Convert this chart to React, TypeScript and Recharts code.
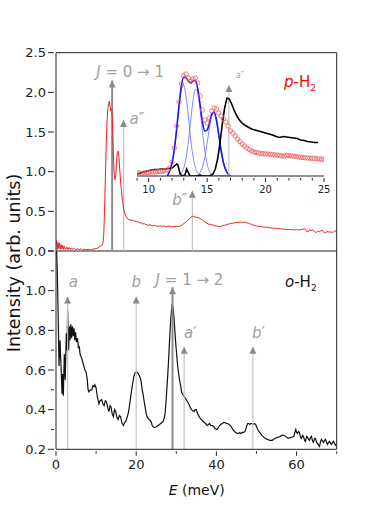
import React from "react";
import { LineChart, Line, XAxis, YAxis, ReferenceLine, ReferenceDot } from "recharts";

const FONT = "'DejaVu Sans', sans-serif";

// p-H2 spectrum (top panel)
const pEnergy = [
  0.1, 0.3, 0.5, 0.7, 0.9, 1.1, 1.3, 1.5, 1.7, 1.9, 2.1, 2.4, 2.7, 3.0, 3.3, 3.6, 3.9, 4.2, 4.6, 5.0,
  5.4, 5.8, 6.2, 6.6, 7.0, 7.5, 8.0, 8.5, 9.0, 9.5, 10.0, 10.5, 11.0, 11.4, 11.7, 11.9, 12.1, 12.3, 12.5, 12.7,
  12.9, 13.1, 13.3, 13.5, 13.7, 13.9, 14.1, 14.3, 14.5, 14.7, 14.9, 15.1, 15.3, 15.5, 15.7, 15.9, 16.2, 16.6, 17.0, 17.5,
  18.0, 18.5, 19.0, 19.5, 20.0, 20.5, 21.0, 21.3, 21.6, 22.0, 22.5, 23.0, 23.5, 24.0, 24.5, 25.0, 25.5, 26.0, 26.5, 27.0,
  27.5, 28.0, 28.5, 29.0, 29.5, 30.0, 30.5, 31.0, 31.5, 32.0, 32.5, 33.0, 33.5, 34.0, 34.5, 35.0, 35.5, 36.0, 36.5, 37.0,
  37.5, 38.0, 38.5, 39.0, 39.5, 40.0, 40.5, 41.0, 41.5, 42.0, 42.5, 43.0, 43.5, 44.0, 44.5, 45.0, 45.5, 46.0, 46.5, 47.0,
  47.5, 48.0, 48.5, 49.0, 49.5, 50.0, 50.5, 51.0, 51.5, 52.0, 52.5, 53.0, 53.5, 54.0, 54.5, 55.0, 55.5, 56.0, 56.5, 57.0,
  57.5, 58.0, 58.5, 59.0, 59.5, 60.0, 60.5, 61.0, 61.5, 62.0, 62.4, 62.8, 63.2, 63.6, 64.0, 64.4, 64.8, 65.2, 65.6, 66.0,
  66.4, 66.8, 67.2, 67.6, 68.0, 68.5, 69.0, 69.5, 70.0,
];
const pIntensity = [
  0.13, 0.02, 0.11, 0.03, 0.1, 0.02, 0.08, 0.03, 0.07, 0.02, 0.06, 0.02, 0.05, 0.02, 0.045, 0.015, 0.04, 0.02, 0.035, 0.015,
  0.03, 0.015, 0.03, 0.012, 0.025, 0.012, 0.022, 0.012, 0.02, 0.025, 0.03, 0.04, 0.06, 0.07, 0.1, 0.2, 0.5, 0.9, 1.3, 1.6,
  1.78, 1.86, 1.89, 1.82, 1.77, 1.79, 1.6, 1.25, 0.98, 0.9, 0.95, 1.12, 1.24, 1.26, 1.18, 1.02, 0.82, 0.62, 0.5, 0.43,
  0.4, 0.39, 0.39, 0.38, 0.37, 0.37, 0.35, 0.36, 0.34, 0.345, 0.33, 0.325, 0.33, 0.32, 0.32, 0.315, 0.31, 0.32, 0.31, 0.315,
  0.305, 0.315, 0.31, 0.305, 0.31, 0.31, 0.31, 0.315, 0.33, 0.35, 0.37, 0.39, 0.42, 0.44, 0.43, 0.425, 0.42, 0.41, 0.39, 0.37,
  0.355, 0.34, 0.335, 0.33, 0.32, 0.315, 0.31, 0.31, 0.32, 0.325, 0.33, 0.34, 0.345, 0.35, 0.355, 0.36, 0.36, 0.365, 0.36, 0.365,
  0.355, 0.35, 0.34, 0.33, 0.32, 0.315, 0.31, 0.31, 0.305, 0.3, 0.3, 0.295, 0.29, 0.29, 0.285, 0.285, 0.28, 0.28, 0.275, 0.275,
  0.27, 0.27, 0.27, 0.27, 0.265, 0.27, 0.265, 0.27, 0.275, 0.28, 0.25, 0.24, 0.27, 0.255, 0.27, 0.25, 0.23, 0.25, 0.24, 0.255,
  0.26, 0.235, 0.23, 0.245, 0.24, 0.24, 0.235, 0.25, 0.255,
];

// o-H2 spectrum (bottom panel)
const oEnergy = [
  0.05, 0.15, 0.33, 0.58, 0.75, 1.0, 1.25, 1.5, 1.66, 1.83, 2.07, 2.3, 2.57, 2.75, 2.9, 3.15, 3.35, 3.5, 3.7, 3.9,
  4.1, 4.3, 4.5, 4.7, 4.9, 5.1, 5.35, 5.6, 5.8, 6.0, 6.4, 6.8, 7.2, 7.5, 7.8, 8.0, 8.2, 8.6, 8.9, 9.2,
  9.5, 9.7, 10.0, 10.3, 10.7, 11.0, 11.4, 11.7, 12.0, 12.3, 12.6, 12.9, 13.2, 13.5, 13.7, 14.0, 14.3, 14.6, 14.9, 15.2,
  15.5, 15.8, 16.1, 16.5, 16.8, 17.1, 17.4, 17.8, 18.1, 18.4, 18.8, 19.1, 19.4, 19.7, 20.1, 20.4, 20.7, 21.0, 21.2, 21.5,
  21.7, 22.0, 22.2, 22.5, 22.7, 23.0, 23.2, 23.5, 23.7, 24.0, 24.2, 24.5, 24.7, 25.1, 25.4, 25.8, 26.1, 26.4, 26.7, 27.0,
  27.2, 27.5, 27.7, 28.0, 28.2, 28.4, 28.6, 28.8, 29.0, 29.2, 29.4, 29.6, 29.8, 30.0, 30.2, 30.4, 30.6, 30.8, 31.1, 31.3,
  31.5, 32.0, 32.5, 33.1, 33.5, 33.8, 34.1, 34.4, 34.7, 35.0, 35.3, 35.7, 36.0, 36.3, 36.7, 37.0, 37.3, 37.7, 38.0, 38.3,
  38.6, 39.0, 39.3, 39.7, 40.0, 40.2, 40.5, 40.8, 41.1, 41.5, 41.8, 42.2, 42.5, 42.8, 43.1, 43.5, 43.8, 44.1, 44.5, 44.8,
  45.2, 45.5, 45.8, 46.1, 46.5, 46.8, 47.1, 47.3, 47.6, 47.8, 48.1, 48.3, 48.6, 48.8, 49.1, 49.5, 49.8, 50.0, 50.3, 50.6,
  51.0, 51.3, 51.6, 51.9, 52.3, 52.6, 53.0, 53.3, 53.6, 53.9, 54.3, 54.6, 55.0, 55.3, 55.6, 55.9, 56.3, 56.6, 57.0, 57.3,
  57.6, 57.9, 58.3, 58.6, 59.0, 59.3, 59.5, 59.8, 60.0, 60.2, 60.5, 60.7, 61.0, 61.2, 61.5, 61.7, 62.0, 62.2, 62.5, 62.7,
  63.0, 63.2, 63.5, 63.7, 64.0, 64.2, 64.5, 64.7, 65.0, 65.2, 65.5, 65.7, 66.0, 66.2, 66.5, 66.7, 67.0, 67.2, 67.5, 67.7,
  68.0, 68.2, 68.5, 68.7, 69.0, 69.2, 69.5, 69.7, 70.0,
];
const oIntensity = [
  1.3, 1.2, 1.09, 0.835, 0.62, 0.75, 0.62, 0.48, 0.58, 0.47, 0.68, 0.55, 0.785, 0.7, 0.9, 0.7, 0.82, 0.75, 0.83, 0.76,
  0.82, 0.77, 0.81, 0.75, 0.79, 0.74, 0.76, 0.71, 0.72, 0.68, 0.66, 0.63, 0.6, 0.59, 0.55, 0.5, 0.49, 0.5, 0.5, 0.52,
  0.515, 0.525, 0.51, 0.465, 0.43, 0.445, 0.45, 0.43, 0.42, 0.445, 0.44, 0.41, 0.39, 0.42, 0.415, 0.38, 0.365, 0.4, 0.39, 0.36,
  0.35, 0.37, 0.365, 0.33, 0.32, 0.335, 0.34, 0.365, 0.39, 0.43, 0.49, 0.53, 0.565, 0.585, 0.59, 0.585, 0.575, 0.56, 0.545, 0.5,
  0.48, 0.44, 0.415, 0.38, 0.365, 0.355, 0.35, 0.345, 0.34, 0.32, 0.315, 0.31, 0.31, 0.315, 0.32, 0.325, 0.33, 0.335, 0.34, 0.36,
  0.38, 0.46, 0.52, 0.62, 0.7, 0.78, 0.85, 0.9, 0.935, 0.91, 0.87, 0.81, 0.75, 0.7, 0.65, 0.61, 0.58, 0.55, 0.52, 0.49,
  0.48, 0.465, 0.45, 0.43, 0.41, 0.4, 0.395, 0.39, 0.4, 0.4, 0.38, 0.365, 0.355, 0.35, 0.34, 0.335, 0.33, 0.32, 0.325, 0.33,
  0.32, 0.32, 0.315, 0.305, 0.3, 0.3, 0.31, 0.32, 0.325, 0.33, 0.335, 0.335, 0.33, 0.33, 0.325, 0.32, 0.31, 0.3, 0.29, 0.285,
  0.28, 0.28, 0.285, 0.28, 0.285, 0.285, 0.29, 0.3, 0.32, 0.33, 0.33, 0.325, 0.33, 0.33, 0.325, 0.33, 0.325, 0.315, 0.3, 0.29,
  0.28, 0.27, 0.265, 0.26, 0.255, 0.25, 0.248, 0.245, 0.245, 0.245, 0.25, 0.255, 0.258, 0.26, 0.262, 0.265, 0.27, 0.272, 0.268, 0.265,
  0.26, 0.255, 0.258, 0.26, 0.262, 0.265, 0.28, 0.3, 0.285, 0.28, 0.29, 0.285, 0.26, 0.255, 0.27, 0.265, 0.245, 0.24, 0.265, 0.262,
  0.25, 0.245, 0.26, 0.265, 0.24, 0.235, 0.255, 0.255, 0.235, 0.23, 0.22, 0.215, 0.24, 0.25, 0.24, 0.235, 0.245, 0.25, 0.235, 0.225,
  0.235, 0.24, 0.23, 0.225, 0.235, 0.24, 0.228, 0.22, 0.225,
];

// inset: measured p-H2 (circles), 9-25 meV
const insetEnergy = [
  9.0, 9.2, 9.4, 9.6, 9.8, 10.0, 10.2, 10.4, 10.6, 10.8, 11.0, 11.2, 11.4, 11.6, 11.8, 12.0, 12.2, 12.4, 12.6, 12.8,
  13.0, 13.2, 13.4, 13.6, 13.8, 14.0, 14.2, 14.4, 14.6, 14.8, 15.0, 15.2, 15.4, 15.6, 15.8, 16.0, 16.2, 16.4, 16.6, 16.8,
  17.0, 17.2, 17.4, 17.6, 17.8, 18.0, 18.2, 18.4, 18.6, 18.8, 19.0, 19.2, 19.4, 19.6, 19.8, 20.0, 20.2, 20.4, 20.6, 20.8,
  21.0, 21.2, 21.4, 21.6, 21.8, 22.0, 22.2, 22.4, 22.6, 22.8, 23.0, 23.2, 23.4, 23.6, 23.8, 24.0, 24.2, 24.4, 24.6, 24.8, 25.0,
];
const insetCircles = [
  0.03, 0.03, 0.025, 0.03, 0.035, 0.035, 0.04, 0.04, 0.04, 0.045, 0.045, 0.05, 0.05, 0.06, 0.08, 0.14, 0.28, 0.5, 0.74, 0.92,
  1.0, 1.02, 0.98, 0.95, 0.97, 0.98, 0.93, 0.8, 0.66, 0.56, 0.53, 0.58, 0.65, 0.68, 0.67, 0.63, 0.6, 0.57, 0.54, 0.5,
  0.45, 0.43, 0.4, 0.37, 0.345, 0.32, 0.3, 0.28, 0.265, 0.25, 0.24, 0.235, 0.23, 0.225, 0.222, 0.22, 0.22, 0.218, 0.215, 0.21,
  0.21, 0.205, 0.2, 0.2, 0.205, 0.205, 0.2, 0.198, 0.195, 0.19, 0.188, 0.185, 0.182, 0.18, 0.178, 0.176, 0.175, 0.172, 0.17, 0.168, 0.167,
];

// inset: black reference curve
const blackEnergy = [
  9.0, 9.3, 9.6, 9.9, 10.2, 10.5, 10.8, 11.1, 11.4, 11.7, 12.0, 12.2, 12.4, 12.5, 12.6, 12.7, 12.9, 13.1, 13.25, 13.4,
  13.55, 14.0, 14.4, 14.6, 15.2, 15.5, 15.7, 15.9, 16.1, 16.3, 16.5, 16.7, 16.9, 17.1, 17.3, 17.5, 17.7, 17.9, 18.2, 18.5,
  18.8, 19.1, 19.4, 19.7, 20.0, 20.3, 20.6, 20.9, 21.2, 21.5, 21.8, 22.1, 22.4, 22.7, 23.0, 23.3, 23.6, 23.9, 24.2, 24.5,
];
const blackIntensity = [
  0.02, 0.03, 0.04, 0.05, 0.06, 0.065, 0.065, 0.07, 0.07, 0.075, 0.08, 0.1, 0.12, 0.11, 0.06, 0.02, 0.0, 0.01, 0.07, 0.03,
  0.0, 0.0, 0.01, 0.0, 0.0, 0.02, 0.07, 0.17, 0.33, 0.52, 0.68, 0.78, 0.77, 0.72, 0.66, 0.61, 0.57, 0.54, 0.51, 0.49,
  0.47, 0.46, 0.45, 0.44, 0.43, 0.42, 0.41, 0.395, 0.385, 0.395, 0.39, 0.385, 0.38, 0.375, 0.36, 0.355, 0.345, 0.34, 0.335, 0.335,
];

// inset: fit components
const fitEnergy = [
  11.6, 11.8, 12.0, 12.2, 12.4, 12.6, 12.8, 13.0, 13.2, 13.4, 13.6, 13.8, 14.0, 14.2, 14.4, 14.6, 14.8, 15.0, 15.2, 15.4,
  15.6, 15.8, 16.0, 16.2, 16.4, 16.6, 16.8, 17.0,
];
const fitSum = [
  0.0, 0.05, 0.13, 0.27, 0.48, 0.71, 0.9, 0.99, 0.98, 0.95, 0.93, 0.95, 0.955, 0.87, 0.71, 0.54, 0.45, 0.46, 0.53, 0.62,
  0.64, 0.56, 0.41, 0.25, 0.13, 0.06, 0.02, 0.0,
];
const fitPeak1 = [
  0.01, 0.05, 0.13, 0.27, 0.47, 0.7, 0.87, 0.905, 0.79, 0.59, 0.36, 0.19, 0.08, 0.03, 0.01, 0.0, 0.0, 0.0, 0.0, 0.0,
  0.0, 0.0, 0.0, 0.0, 0.0, 0.0, 0.0, 0.0,
];
const fitPeak2 = [
  0.0, 0.0, 0.0, 0.0, 0.0, 0.01, 0.03, 0.08, 0.18, 0.35, 0.56, 0.76, 0.865, 0.83, 0.67, 0.45, 0.26, 0.12, 0.05, 0.016,
  0.0, 0.0, 0.0, 0.0, 0.0, 0.0, 0.0, 0.0,
];
const fitPeak3 = [
  0.0, 0.0, 0.0, 0.0, 0.0, 0.0, 0.0, 0.0, 0.0, 0.0, 0.0, 0.0, 0.0, 0.0, 0.036, 0.09, 0.185, 0.33, 0.48, 0.6,
  0.627, 0.55, 0.41, 0.25, 0.13, 0.057, 0.02, 0.0,
];

// arrows: energy, tip height, label
const topArrowE = [14.0, 16.85, 34.0];
const topArrowTip = [2.15, 1.65, 0.76];
const topArrowLabel = ["J = 0 → 1", "a″", "b″"];
const bottomArrowE = [2.9, 20.0, 29.05, 31.95, 49.1];
const bottomArrowTip = [0.97, 0.97, 1.017, 0.717, 0.717];
const bottomArrowLabel = ["a", "b", "J = 1 → 2", "a′", "b′"];
const insetArrowE = [16.86];
const insetArrowTip = [0.91];
const insetArrowLabel = ["a″"];

const xTicks = [0, 10, 20, 30, 40, 50, 60, 70];
const topYTicks = [0, 0.5, 1.0, 1.5, 2.0, 2.5];
const bottomYTicks = [0.2, 0.3, 0.4, 0.5, 0.6, 0.7, 0.8, 0.9, 1.0, 1.1, 1.2];
const insetXTicks = [9, 10, 11, 12, 13, 14, 15, 16, 17, 18, 19, 20, 21, 22, 23, 24, 25];

const zip = (xs: number[], ys: number[]) => xs.map((e, k) => ({ e, i: ys[k] }));

const pData = zip(pEnergy, pIntensity);
const oData = zip(oEnergy, oIntensity);
const circleData = zip(insetEnergy, insetCircles);
const blackData = zip(blackEnergy, blackIntensity);
const sumData = zip(fitEnergy, fitSum);
const peakData = [fitPeak1, fitPeak2, fitPeak3].map((p) => zip(fitEnergy, p));

const AXIS = "#222";
const ARROW_DARK = "#8c8c8c";
const ARROW_LIGHT = "#c4c4c4";
const LABEL_GREY = "#a0a0a0";

type Side = "left" | "right" | "top" | "bottom";

// draws tick line + label; the axes themselves use tickSize 0
function ticker(
  side: Side,
  isMajor: (v: number) => boolean,
  label: ((v: number) => string) | null,
  majorLen: number,
  minorLen: number,
  fontSize = 13
) {
  return (props: any) => {
    const { x, y, payload } = props;
    const v = payload.value as number;
    const len = isMajor(v) ? majorLen : minorLen;
    const text = label && isMajor(v) ? label(v) : "";
    let l;
    if (side === "left" || side === "right") l = { x1: x - len, x2: x, y1: y, y2: y };
    else l = { x1: x, x2: x, y1: y, y2: y + len };
    return (
      <g>
        <line {...l} stroke={AXIS} strokeWidth={1} />
        {text && side === "left" && (
          <text x={x - 8} y={y} dy="0.36em" textAnchor="end" fontSize={fontSize} fontFamily={FONT} fill={AXIS}>
            {text}
          </text>
        )}
        {text && side === "bottom" && (
          <text x={x} y={y + 8} dy="0.72em" textAnchor="middle" fontSize={fontSize} fontFamily={FONT} fill={AXIS}>
            {text}
          </text>
        )}
      </g>
    );
  };
}

const even10 = (v: number) => Math.round(v * 10) % 2 === 0;
const every20 = (v: number) => Math.round(v) % 20 === 0;
const every5 = (v: number) => Math.round(v) % 5 === 0;
const all = () => true;

function ArrowLabel({ text, x, y, anchor, size = 15 }: { text: string; x: number; y: number; anchor: string; size?: number }) {
  const m = text.match(/^([A-Za-z])(.*)$/);
  return (
    <text x={x} y={y} textAnchor={anchor as any} fontSize={size} fontFamily={FONT} fill={LABEL_GREY}>
      <tspan fontStyle="italic">{m ? m[1] : text}</tspan>
      {m ? m[2] : ""}
    </text>
  );
}

// label placement relative to arrow tip
const topLabelPos = [
  { dx: 18, dy: -3, anchor: "middle" },
  { dx: 6, dy: 4, anchor: "start" },
  { dx: -5, dy: 14, anchor: "end" },
];
const bottomLabelPos = [
  { dx: 1, dy: -10, anchor: "start" },
  { dx: 0, dy: -10, anchor: "middle" },
  { dx: 17, dy: -2, anchor: "middle" },
  { dx: 0, dy: -9, anchor: "start" },
  { dx: -1, dy: -9, anchor: "start" },
];

function arrowHead(label: string, pos: { dx: number; dy: number; anchor: string }, size = 15) {
  return (props: any) => {
    const { cx, cy } = props;
    return (
      <g>
        <path d={`M${cx},${cy} L${cx - 3.5},${cy + 7} L${cx + 3.5},${cy + 7} Z`} fill="#8a8a8a" />
        <ArrowLabel text={label} x={cx + pos.dx} y={cy + pos.dy} anchor={pos.anchor} size={size} />
      </g>
    );
  };
}

function renderArrows(
  es: number[],
  tips: number[],
  labels: string[],
  base: number,
  positions: { dx: number; dy: number; anchor: string }[],
  ids: { x: string; y: string },
  size = 15
) {
  return es.flatMap((e, k) => {
    const dark = labels[k].startsWith("J");
    return [
      <ReferenceLine
        key={`l${k}`}
        xAxisId={ids.x}
        yAxisId={ids.y}
        segment={[{ x: e, y: base }, { x: e, y: tips[k] - 0.0001 }]}
        stroke={dark ? ARROW_DARK : ARROW_LIGHT}
        strokeWidth={dark ? 2 : 1.2}
      />,
      <ReferenceDot
        key={`d${k}`}
        xAxisId={ids.x}
        yAxisId={ids.y}
        x={e}
        y={tips[k]}
        r={0}
        shape={arrowHead(labels[k], positions[k], size)}
      />,
    ];
  });
}

function TopPanel() {
  return (
    <LineChart width={374} height={262} margin={{ top: 51.7, right: 36.3, bottom: 11, left: 0 }}>
      <XAxis xAxisId="b" type="number" dataKey="e" domain={[0, 70]} allowDataOverflow hide />
      <XAxis
        xAxisId="t"
        orientation="top"
        type="number"
        domain={[0, 70]}
        ticks={xTicks}
        interval={0}
        height={1}
        tickSize={0}
        tickLine={false}
        axisLine={{ stroke: AXIS }}
        tick={ticker("top", all, null, 4, 4)}
      />
      <YAxis
        yAxisId="l"
        type="number"
        domain={[0, 2.5]}
        ticks={topYTicks}
        interval={0}
        width={56}
        tickSize={0}
        tickLine={false}
        axisLine={{ stroke: AXIS }}
        tick={ticker("left", all, (v) => v.toFixed(1), 6, 6)}
      />
      <YAxis
        yAxisId="r"
        orientation="right"
        type="number"
        domain={[0, 2.5]}
        ticks={topYTicks}
        interval={0}
        width={1}
        tickSize={0}
        tickLine={false}
        axisLine={{ stroke: AXIS }}
        tick={ticker("right", all, null, 5, 5)}
      />
      {renderArrows(topArrowE, topArrowTip, topArrowLabel, 0, topLabelPos, { x: "b", y: "l" })}
      <Line
        xAxisId="b"
        yAxisId="l"
        data={pData}
        dataKey="i"
        type="linear"
        stroke="#ff1a1a"
        strokeWidth={1}
        dot={false}
        isAnimationActive={false}
      />
    </LineChart>
  );
}

function BottomPanel() {
  return (
    <LineChart width={374} height={240} margin={{ top: 10, right: 36.3, bottom: 0.7, left: 0 }}>
      <XAxis
        xAxisId="b"
        type="number"
        dataKey="e"
        domain={[0, 70]}
        allowDataOverflow
        ticks={xTicks}
        interval={0}
        height={30}
        tickSize={0}
        tickLine={false}
        axisLine={{ stroke: AXIS }}
        tick={ticker("bottom", every20, (v) => String(v), 4.5, 2.5)}
      />
      <XAxis
        xAxisId="t"
        orientation="top"
        type="number"
        domain={[0, 70]}
        ticks={xTicks}
        interval={0}
        height={1}
        tickSize={0}
        tickLine={false}
        axisLine={{ stroke: AXIS }}
        tick={ticker("top", every20, null, 4.5, 2.5)}
      />
      <YAxis
        yAxisId="l"
        type="number"
        domain={[0.2, 1.2]}
        allowDataOverflow
        ticks={bottomYTicks}
        interval={0}
        width={56}
        tickSize={0}
        tickLine={false}
        axisLine={{ stroke: AXIS }}
        tick={ticker("left", even10, (v) => (v > 1.1 ? "" : v.toFixed(1)), 6, 3)}
      />
      <YAxis
        yAxisId="r"
        orientation="right"
        type="number"
        domain={[0.2, 1.2]}
        ticks={bottomYTicks}
        interval={0}
        width={1}
        tickSize={0}
        tickLine={false}
        axisLine={{ stroke: AXIS }}
        tick={ticker("right", even10, null, 5, 3)}
      />
      <Line
        xAxisId="b"
        yAxisId="l"
        data={oData}
        dataKey="i"
        type="linear"
        stroke="#111"
        strokeWidth={1.2}
        dot={false}
        isAnimationActive={false}
      />
      {renderArrows(bottomArrowE, bottomArrowTip, bottomArrowLabel, 0.2, bottomLabelPos, { x: "b", y: "l" })}
    </LineChart>
  );
}

function Inset() {
  return (
    <LineChart width={200} height={136} margin={{ top: 6, right: 6, bottom: 0, left: 7 }}>
      <XAxis
        type="number"
        dataKey="e"
        domain={[9, 25]}
        allowDataOverflow
        ticks={insetXTicks}
        interval={0}
        height={20}
        tickSize={0}
        tickLine={false}
        axisLine={{ stroke: AXIS }}
        tick={ticker("bottom", every5, (v) => String(v), 4, 2.5, 10)}
      />
      <YAxis type="number" domain={[0, 1.1]} allowDataOverflow hide />
      {peakData.map((d, k) => (
        <Line
          key={k}
          data={d}
          dataKey="i"
          type="monotone"
          stroke="#6a6aff"
          strokeWidth={0.8}
          dot={false}
          isAnimationActive={false}
        />
      ))}
      <Line
        data={circleData}
        dataKey="i"
        stroke="none"
        dot={{ r: 2.2, stroke: "#f25a5a", strokeWidth: 0.8, fill: "none" }}
        isAnimationActive={false}
      />
      <Line
        data={sumData}
        dataKey="i"
        type="monotone"
        stroke="#1414ff"
        strokeWidth={1.6}
        dot={false}
        isAnimationActive={false}
      />
      {renderArrows(insetArrowE, insetArrowTip, insetArrowLabel, 0, [{ dx: 7, dy: -7, anchor: "start" }], { x: "0", y: "0" }, 8)}
      <Line
        data={blackData}
        dataKey="i"
        type="linear"
        stroke="#000"
        strokeWidth={1.6}
        dot={false}
        isAnimationActive={false}
      />
    </LineChart>
  );
}

export default function App() {
  return (
    <div style={{ position: "absolute", left: 0, top: 0, width: 374, height: 529, background: "#fff", fontFamily: FONT }}>
      <div style={{ position: "absolute", left: 0, top: 240 }}>
        <BottomPanel />
      </div>
      <div style={{ position: "absolute", left: 0, top: 0 }}>
        <TopPanel />
      </div>
      <div style={{ position: "absolute", left: 130, top: 60 }}>
        <Inset />
      </div>
      <svg width={374} height={529} style={{ position: "absolute", left: 0, top: 0, pointerEvents: "none" }}>
        <text x={284} y={87} fontSize={15} fontFamily={FONT} fill="#ff0000">
          <tspan fontStyle="italic">p</tspan>-H
          <tspan fontSize={9} dy={4}>2</tspan>
        </text>
        <text x={285} y={287} fontSize={15} fontFamily={FONT} fill="#111">
          <tspan fontStyle="italic">o</tspan>-H
          <tspan fontSize={9} dy={4}>2</tspan>
        </text>
        <text x={196.7} y={495} textAnchor="middle" fontSize={14} fontFamily={FONT} fill="#111">
          <tspan fontStyle="italic">E</tspan> (meV)
        </text>
        <text
          x={0}
          y={0}
          transform="translate(20,263) rotate(-90)"
          textAnchor="middle"
          fontSize={17.5}
          fontFamily={FONT}
          fill="#111"
        >
          Intensity (arb. units)
        </text>
      </svg>
    </div>
  );
}
